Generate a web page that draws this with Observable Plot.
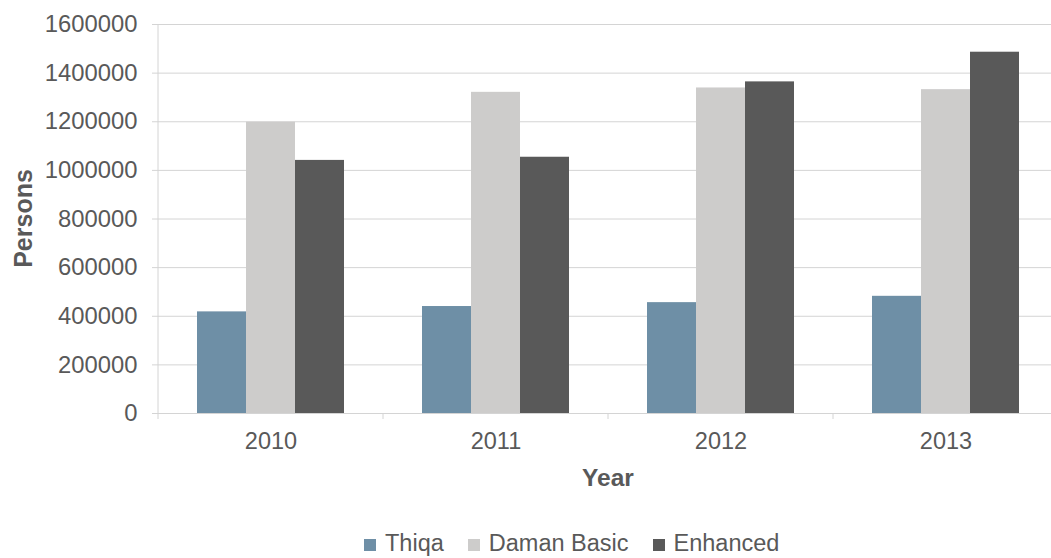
<!DOCTYPE html>
<html><head><meta charset="utf-8">
<script src="https://cdn.jsdelivr.net/npm/d3@7"></script>
<script src="https://cdn.jsdelivr.net/npm/@observablehq/plot@0.6"></script>
<style>
html,body{margin:0;padding:0;background:#fff;overflow:hidden;}
#chart{position:relative;width:1051px;height:558px;font-family:"Liberation Sans",Arial,sans-serif;color:#595959;}
#legend{position:absolute;left:364px;top:532px;font-size:23.5px;line-height:23px;white-space:nowrap;}
#legend .item{display:inline-block;margin-right:24px;}
#legend .sw{display:inline-block;width:12px;height:12px;margin-right:9px;vertical-align:baseline;}
</style>
</head><body>
<div id="chart"></div>
<script>
const years = ["2010", "2011", "2012", "2013"];
const series = ["Thiqa", "Daman Basic", "Enhanced"];
const thiqa = [418000, 440000, 456000, 482000];
const damanBasic = [1198000, 1321000, 1339000, 1332000];
const enhanced = [1041000, 1054000, 1364000, 1486000];
const yTicks = [0, 200000, 400000, 600000, 800000, 1000000, 1200000, 1400000, 1600000];
const colors = ["#6E8FA6", "#CDCCCB", "#595959"];

const seriesValues = [thiqa, damanBasic, enhanced];
const data = years.flatMap((year, i) => series.map((s, j) => ({year, series: s, value: seriesValues[j][i]})));

const plot = Plot.plot({
  width: 1051, height: 500,
  marginLeft: 157, marginRight: -7, marginTop: 24, marginBottom: 87,
  style: {fontFamily: "Liberation Sans, Arial, sans-serif", fontSize: "23px", color: "#595959", background: "transparent", overflow: "hidden"},
  fx: {domain: years, padding: 0, label: null},
  x: {domain: series, paddingInner: 0, paddingOuter: 0.76, axis: null},
  y: {domain: [0, 1600000], label: null},
  color: {domain: series, range: colors},
  marks: [
    Plot.gridY(yTicks, {stroke: "#d4d4d4", strokeOpacity: 1}),
    Plot.barY(data, {fx: "year", x: "series", y: "value", fill: "series"}),
    Plot.ruleY([0], {stroke: "#d4d4d4"}),
    Plot.axisY(yTicks, {tickFormat: d3.format("d"), tickSize: 6, tickPadding: 15, fontSize: 23.8, label: null, color: "#595959", stroke: "#d4d4d4"}),
    Plot.axisFx({anchor: "bottom", tickSize: 0, tickPadding: 19, fontSize: 23.5, label: null, color: "#595959"})
  ]
});

const root = document.getElementById("chart");
root.appendChild(plot);

// decorations computed from the library's scales
const svg = d3.select(plot);
const fx = plot.scale("fx");
const y = plot.scale("y");
const y0 = y.apply(0), yTop = y.apply(1600000);
const left = fx.apply(years[0]);
const right = fx.apply(years[years.length - 1]) + fx.step;
svg.append("line").attr("x1", left).attr("x2", left).attr("y1", yTop).attr("y2", y0).attr("stroke", "#d4d4d4");
const bounds = years.map(d => fx.apply(d)).concat([right]);
svg.append("g").selectAll("line").data(bounds).join("line")
  .attr("x1", d => d).attr("x2", d => d).attr("y1", y0).attr("y2", y0 + 6).attr("stroke", "#d4d4d4");
svg.append("text").text("Persons")
  .attr("transform", `translate(31.5,${(y0 + yTop) / 2}) rotate(-90)`)
  .attr("text-anchor", "middle").attr("font-weight", "bold").attr("font-size", 25).attr("fill", "#595959");
svg.append("text").text("Year")
  .attr("x", (left + right) / 2).attr("y", 485.7)
  .attr("text-anchor", "middle").attr("font-weight", "bold").attr("font-size", 24.5).attr("fill", "#595959");

// legend
const legend = d3.select(root).append("div").attr("id", "legend");
const items = legend.selectAll(".item").data(series).join("span").attr("class", "item");
items.append("span").attr("class", "sw").style("background", (d, i) => colors[i]);
items.append("span").text(d => d);
</script>
</body></html>
